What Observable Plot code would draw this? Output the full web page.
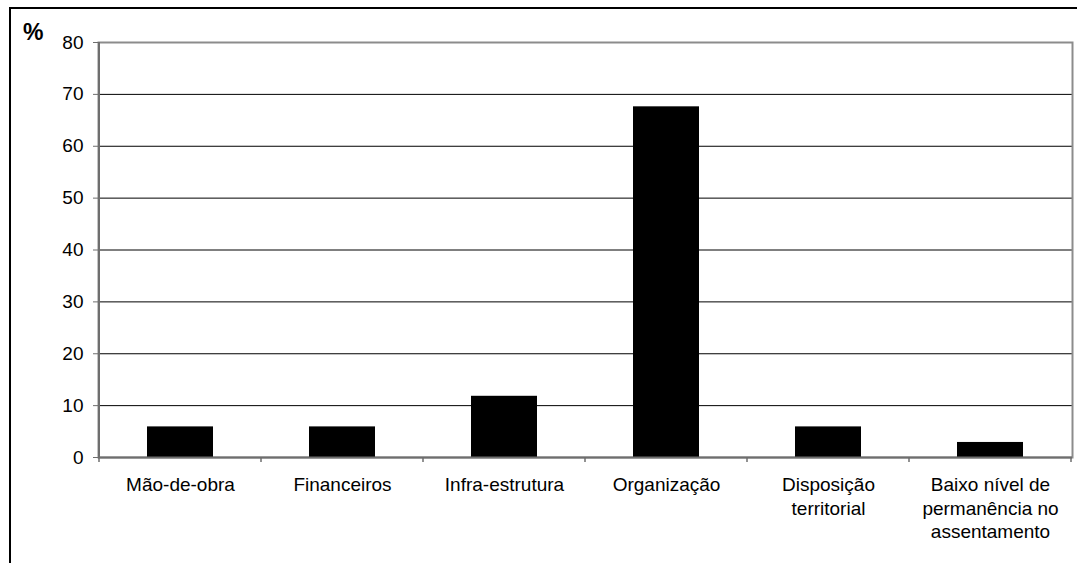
<!DOCTYPE html>
<html>
<head>
<meta charset="utf-8">
<script src="https://cdn.jsdelivr.net/npm/d3@7"></script>
<script src="https://cdn.jsdelivr.net/npm/@observablehq/plot@0.6"></script>
<style>
  html, body { margin: 0; padding: 0; background: #fff; }
  #wrap { position: relative; width: 1077px; height: 563px; overflow: hidden; font-family: "Liberation Sans", Arial, sans-serif; }
  #outer { position: absolute; left: 9px; top: 7px; width: 1200px; height: 700px; border-left: 2px solid #000; border-top: 2px solid #000; }
  #unit { position: absolute; left: 23px; top: 21px; font-size: 23px; line-height: 1; font-weight: bold; color: #000; }
  #chart { position: absolute; left: 0; top: 0; }
</style>
</head>
<body>
<div id="wrap">
  <div id="outer"></div>
  <div id="chart"></div>
  <div id="unit">%</div>
</div>
<script>
const categories = [
  "Mão-de-obra",
  "Financeiros",
  "Infra-estrutura",
  "Organização",
  "Disposição territorial",
  "Baixo nível de permanência no assentamento"
];
const tickLabels = [
  "Mão-de-obra",
  "Financeiros",
  "Infra-estrutura",
  "Organização",
  "Disposição\nterritorial",
  "Baixo nível de\npermanência no\nassentamento"
];
const values = [5.9, 5.9, 11.8, 67.6, 5.9, 2.9];
const yTicks = [0, 10, 20, 30, 40, 50, 60, 70, 80];

const data = categories.map((c, i) => ({category: c, value: values[i]}));
const labelOf = new Map(categories.map((c, i) => [c, tickLabels[i]]));

// y-axis line and category-boundary tick marks, placed through the plot's scales
function axisLinesAndBoundaryTicks(index, scales) {
  const x = scales.x, y = scales.y;
  const bw = typeof x.bandwidth === "function" ? x.bandwidth() : x.bandwidth;
  const xs = categories.map(c => x(c));
  xs.push(x(categories[categories.length - 1]) + bw);
  const y0 = y(0), yTop = y(yTicks[yTicks.length - 1]);
  const g = d3.create("svg:g");
  g.append("line")
    .attr("x1", xs[0]).attr("x2", xs[0])
    .attr("y1", yTop).attr("y2", y0)
    .attr("stroke", "#6e6e6e").attr("stroke-width", 2);
  g.selectAll("line.bt").data(xs).join("line").attr("class", "bt")
    .attr("x1", d => d).attr("x2", d => d)
    .attr("y1", y0).attr("y2", y0 + 5)
    .attr("stroke", "#6e6e6e").attr("stroke-width", 1.5);
  return g.node();
}

const chart = Plot.plot({
  width: 1077,
  height: 563,
  marginLeft: 98,
  marginRight: 5,
  marginTop: 42,
  marginBottom: 106,
  style: {fontFamily: "'Liberation Sans', Arial, sans-serif", fontSize: "19px", color: "#000", background: "transparent"},
  x: {domain: categories, padding: 0},
  y: {domain: [0, 80]},
  marks: [
    Plot.gridY(yTicks.filter(t => t > 0 && t < 80), {stroke: "#000", strokeOpacity: 1, strokeWidth: 1}),
    Plot.frame({stroke: "#8c8c8c", strokeWidth: 2}),
    Plot.barY(data, {x: "category", y: "value", fill: "#000", insetLeft: 48, insetRight: 48}),
    Plot.ruleY([0], {stroke: "#6e6e6e", strokeWidth: 2}),
    Plot.axisY({ticks: yTicks, tickSize: 5, tickPadding: 10, label: null, fontSize: 19, stroke: "#6e6e6e", color: "#000"}),
    Plot.axisX({tickSize: 0, tickPadding: 17, label: null, fontSize: 19, lineHeight: 1.24, tickFormat: d => labelOf.get(d)}),
    axisLinesAndBoundaryTicks
  ]
});
document.getElementById("chart").appendChild(chart);
</script>
</body>
</html>
